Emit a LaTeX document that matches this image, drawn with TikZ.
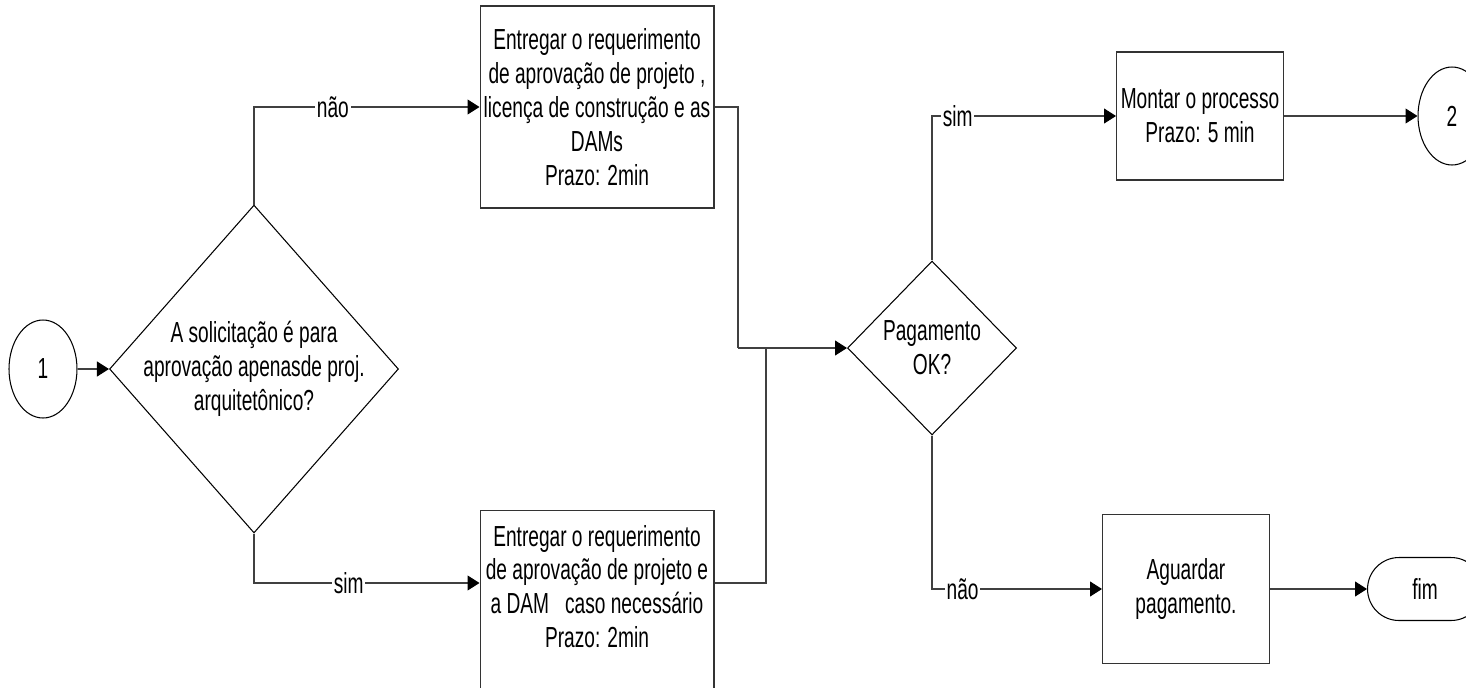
\documentclass[tikz,border=0pt]{standalone}
\usepackage{fontspec}
\setmainfont{Liberation Sans}[FakeStretch=0.66]
\usetikzlibrary{positioning, arrows.meta, calc, shapes.geometric}
\definecolor{fluxLine}{HTML}{404040}

\begin{document}
\begin{tikzpicture}[
        x=0.02cm, y=-0.02cm,
        font=\fontsize{16.5}{19.3}\selectfont,
        conector/.style={
          ellipse, draw=black, line width=0.6pt,
          minimum width=1.36cm, minimum height=1.96cm, inner sep=0pt
        },
        decision/.style={
          diamond, draw=black, line width=0.6pt, inner sep=0pt
        },
        proc/.style={
          rectangle, draw=black!80, line width=0.6pt,
          align=center, inner sep=2pt,
          minimum width=4.68cm
        },
        term/.style={
          rectangle, rounded corners=0.63cm,
          draw=black, line width=0.6pt,
          minimum width=2.3cm, minimum height=1.26cm
        },
        arr/.style={-{Triangle[length=0.24cm, width=0.3cm, color=black]}, color=fluxLine, line width=0.6pt},
        line/.style={color=fluxLine, line width=0.6pt},
        lbl/.style={fill=white, text=black, inner sep=1pt}
      ]
      \useasboundingbox (0,0) rectangle (1466,687);

      % Entrada
      \node[conector] (c1) at (43,369) {1};

      % Decisão: só projeto arquitetônico?
      \node[decision, minimum width=5.78cm, minimum height=6.56cm,
        label={[align=center]center:A solicitação é para\\aprovação apenasde proj.\\arquitetônico?}] (q1) at (254,369) {};

      % Requerimentos
      \node[proc, minimum height=4.04cm] (b1) at (597,107)
        {Entregar o requerimento\\de aprovação de projeto ,\\licença de construção e as\\DAMs\\Prazo: 2min};
      \node[proc, anchor=north, minimum height=3.8cm,
        label={[align=center, yshift=0.38cm]center:Entregar o requerimento\\de aprovação de projeto e\\a DAM\ \ \ caso necessário\\Prazo: 2min}] (b2) at (597,510) {};

      % Decisão: pagamento
      \coordinate (jn) at (738,348);
      \coordinate (jn2) at (766,348);
      \node[decision, minimum width=3.38cm, minimum height=3.48cm,
        label={[align=center]center:Pagamento\\OK?}] (q2) at (932,348) {};

      % Saídas
      \node[proc, minimum width=3.34cm, minimum height=2.56cm] (m1) at (1200,116)
        {Montar o processo\\Prazo: 5 min};
      \node[conector] (c2) at (1452,116) {2};
      \node[proc, minimum width=3.34cm, minimum height=2.98cm] (a1) at (1186,589)
        {Aguardar\\pagamento.};
      \node[term, anchor=west] (fim) at (1367,589) {fim};

      % Fluxo
      \draw[arr] (c1) -- (q1);
      \draw[arr] (q1.north) |- node[lbl, pos=0.675]{não} (b1.west);
      \draw[arr] (q1.south) |- node[lbl, pos=0.71]{sim} ([yshift=-1.46cm]b2.north west);
      \draw[line] (b1.east) -| (jn);
      \draw[line] ([yshift=-1.46cm]b2.north east) -| (jn2);
      \draw[arr] (jn) -- (q2.west);
      \draw[arr] (q2.north) |- node[lbl, pos=0.57]{sim} (m1.west);
      \draw[arr] (q2.south) |- node[lbl, pos=0.59]{não} (a1.west);
      \draw[arr] (m1) -- (c2);
      \draw[arr] (a1) -- (fim);

    \end{tikzpicture}
\end{document}
